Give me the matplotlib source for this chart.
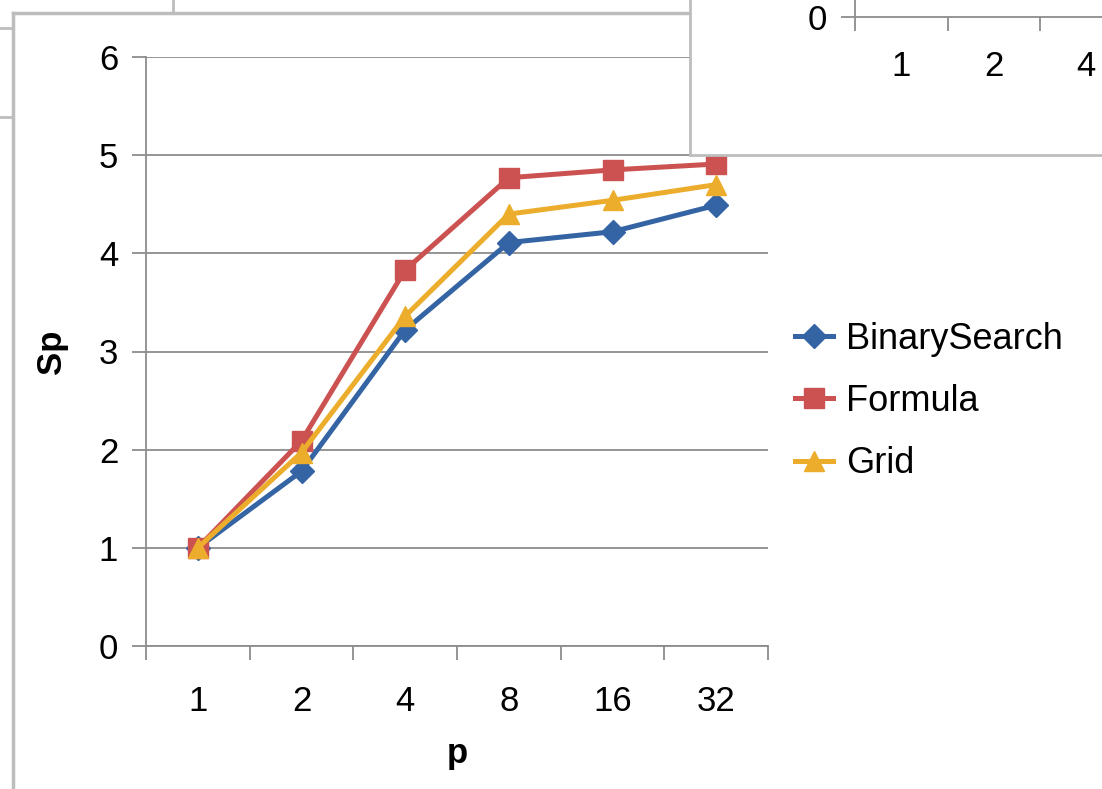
import matplotlib
matplotlib.use("Agg")
import matplotlib.pyplot as plt
from matplotlib.lines import Line2D

plt.rcParams["font.family"] = ["Liberation Sans", "DejaVu Sans"]

# data
p_labels = ["1", "2", "4", "8", "16", "32"]
binary_search = [1.0, 1.78, 3.22, 4.11, 4.22, 4.49]
formula = [1.0, 2.09, 3.83, 4.77, 4.85, 4.91]
grid = [1.0, 1.97, 3.36, 4.40, 4.54, 4.70]
# only the first categories of the chart on top are visible
inset_labels = ["1", "2", "4"]

W, H = 1102, 789
fig = plt.figure(figsize=(W / 100, H / 100), dpi=100)


def fx(px):
    return px / W


def fy(py):
    return 1 - py / H


# pieces of the other charts behind / around
frame_col = "#bdbdbd"
fig.add_artist(Line2D([fx(13), fx(13)], [fy(13), 0], color=frame_col, lw=2.5))
fig.add_artist(Line2D([fx(13), 1], [fy(13), fy(13)], color=frame_col, lw=2.5))
fig.add_artist(Line2D([fx(173), fx(173)], [1, fy(13)], color=frame_col, lw=2.0))
fig.add_artist(Line2D([0, fx(12)], [fy(28), fy(28)], color=frame_col, lw=2.0))
fig.add_artist(Line2D([0, fx(12)], [fy(117), fy(117)], color=frame_col, lw=2.0))

# main plot
ax = fig.add_axes([fx(146), fy(646), fx(768) - fx(146), fy(57) - fy(646)])
x = list(range(len(p_labels)))
line_kw = dict(lw=3.6, clip_on=False, zorder=3)
ax.plot(x, binary_search, color="#3464a4", marker="D", ms=12, label="BinarySearch", **line_kw)
ax.plot(x, formula, color="#cc5252", marker="s", ms=14, label="Formula", **line_kw)
ax.plot(x, grid, color="#ebad2b", marker="^", ms=15, label="Grid", **line_kw)

ax.set_xlim(-0.5, len(p_labels) - 0.5)
ax.set_ylim(0, 6)
ax.set_yticks(range(0, 7))
ax.set_xticks(x)
ax.set_xticklabels(p_labels)
ax.set_xticks([i - 0.5 for i in range(len(p_labels) + 1)], minor=True)
ax.yaxis.grid(True, color="#8c8c8c", lw=1.3)
ax.set_axisbelow(True)
for s in ["top", "right"]:
    ax.spines[s].set_visible(False)
for s in ["left", "bottom"]:
    ax.spines[s].set_color("#8c8c8c")
    ax.spines[s].set_linewidth(1.3)
ax.tick_params(axis="y", length=10, width=1.3, color="#8c8c8c", labelsize=25, pad=10)
ax.tick_params(axis="x", which="major", length=0, labelsize=25, pad=28)
ax.tick_params(axis="x", which="minor", length=10, width=1.3, color="#8c8c8c")
ax.set_xlabel("p", fontsize=25, fontweight="bold", labelpad=14)
ax.set_ylabel("Sp", fontsize=25, fontweight="bold", labelpad=22)

ax.legend(loc="center left", bbox_to_anchor=(1.0, 0.415), frameon=False, fontsize=26,
          handlelength=1.05, handletextpad=0.35, labelspacing=0.75, borderaxespad=0.35)

# overlapping chart in the top right corner
box = fig.add_axes([fx(690), fy(155), 1 - fx(690) + 0.01, fy(0) - fy(155) + 0.01], zorder=5)
box.set_xlim(0, 1)
box.set_ylim(0, 1)
box.set_xticks([])
box.set_yticks([])
box.set_facecolor("white")
for s in ["top", "right"]:
    box.spines[s].set_visible(False)
for s in ["left", "bottom"]:
    box.spines[s].set_color(frame_col)
    box.spines[s].set_linewidth(2.0)

cat_w = 92.5
n_cat = 6
inset = fig.add_axes([fx(855), fy(17), fx(855 + cat_w * n_cat) - fx(855), 0.2], zorder=6)
inset.patch.set_alpha(0)
inset.set_xlim(-0.5, n_cat - 0.5)
inset.set_ylim(0, 5)
inset.set_yticks([0])
inset.set_xticks(range(len(inset_labels)))
inset.set_xticklabels(inset_labels)
inset.set_xticks([i - 0.5 for i in range(n_cat + 1)], minor=True)
for s in ["top", "right"]:
    inset.spines[s].set_visible(False)
for s in ["left", "bottom"]:
    inset.spines[s].set_color("#8c8c8c")
    inset.spines[s].set_linewidth(1.3)
inset.tick_params(axis="y", length=10, width=1.3, color="#8c8c8c", labelsize=25, pad=10)
inset.tick_params(axis="x", which="major", length=0, labelsize=25, pad=24)
inset.tick_params(axis="x", which="minor", length=10, width=1.3, color="#8c8c8c")

fig.savefig("out.png", dpi=100, facecolor="white")
